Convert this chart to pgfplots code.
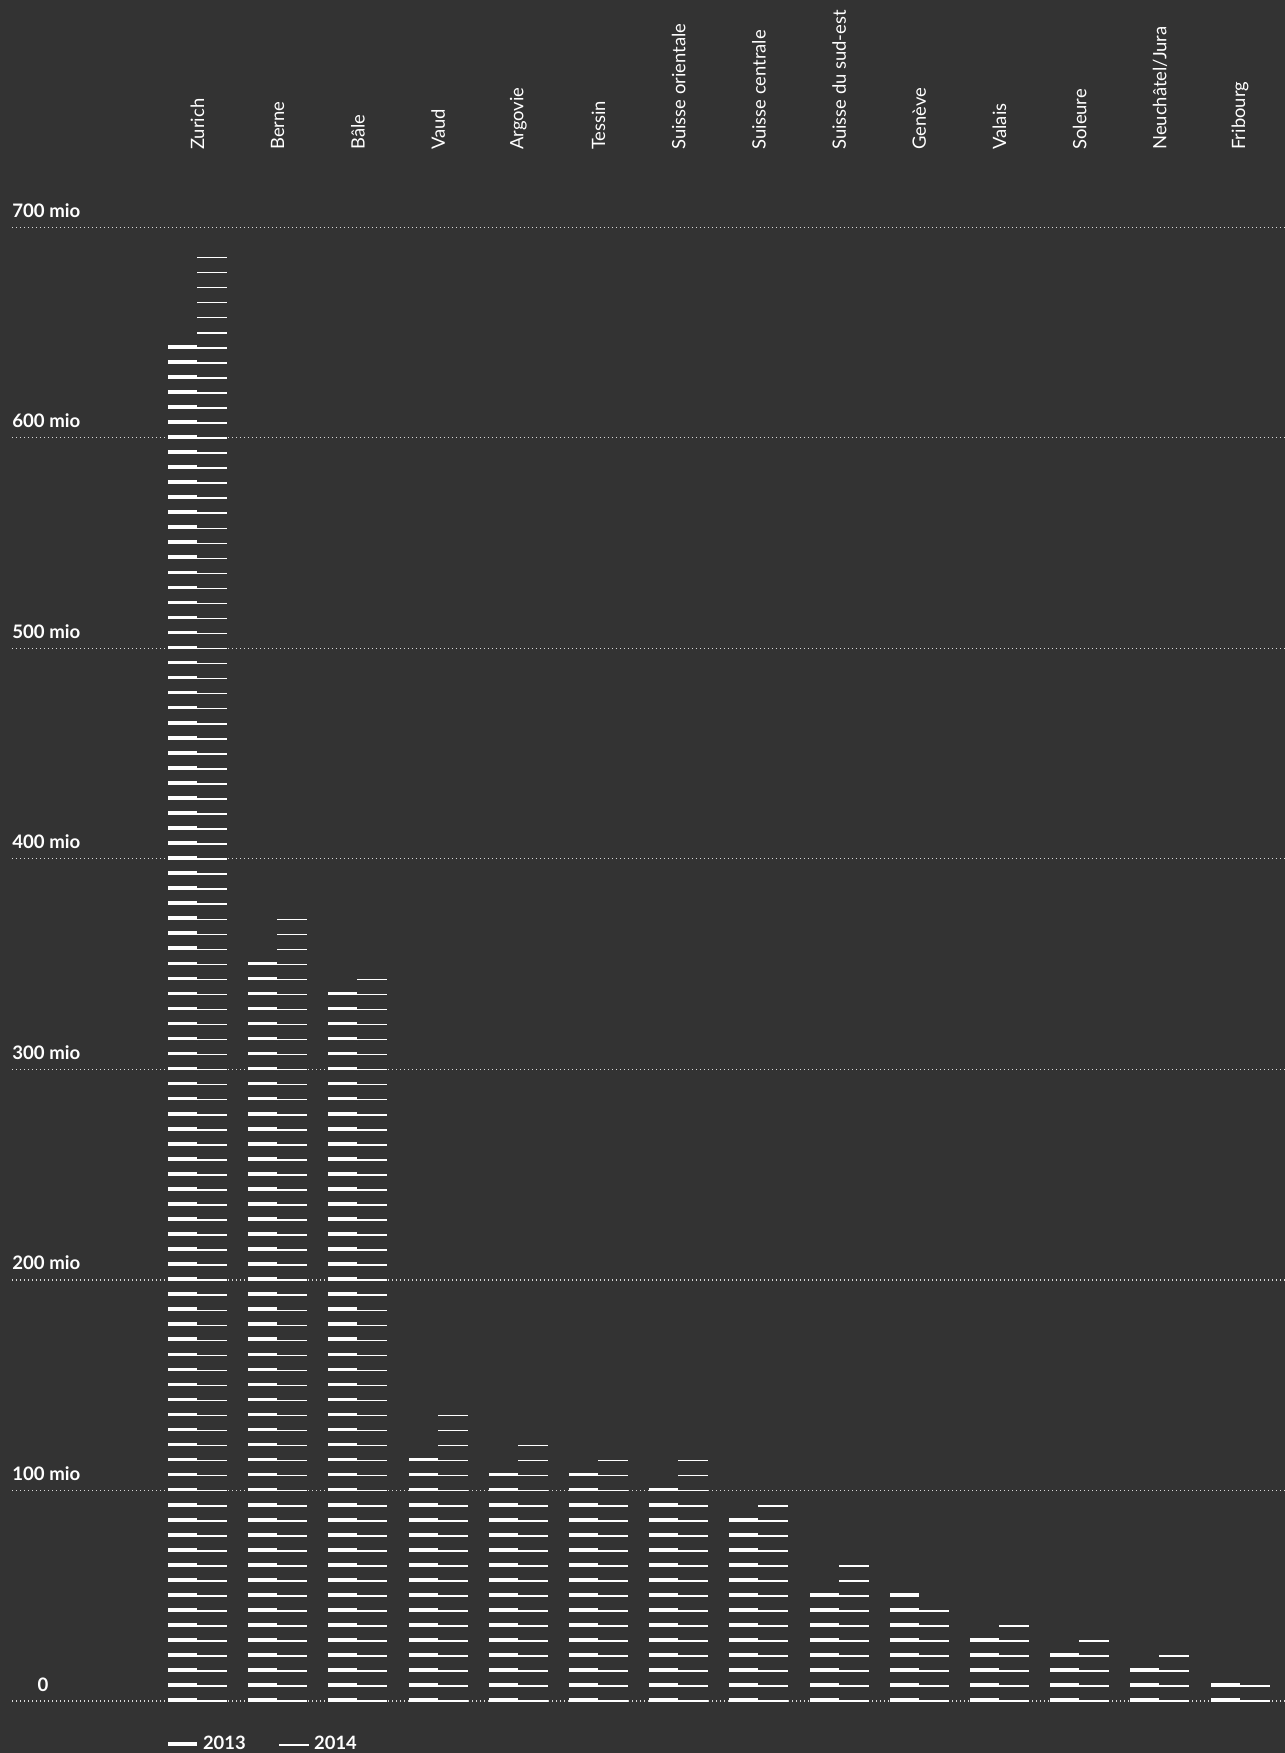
\documentclass[border=0pt]{standalone}
\usepackage{pgfplots}
\usepackage{pgfplotstable}
\pgfplotsset{compat=1.18}
\usepackage{fontspec}
\setmainfont{Lato}

\definecolor{bgcol}{HTML}{333333}
\definecolor{gridcol}{HTML}{DADADA}

% values in mio CHF, one dash = 100/14 mio
\pgfplotstableread{
x  y2013  y2014
0  645    688
1  352.5  374
2  338    345
3  117    138
4  110    124
5  110    117
6  102.5  117
7  88     95
8  52.5   67
9  52.5   45
10 31     38
11 24     31
12 17     24
13 10     10
}\regions

\begin{document}
\begin{tikzpicture}
  \fill[bgcol, use as bounding box] (-6bp,-26bp) rectangle (636.5bp,850.5bp);
  \begin{axis}[
      scale only axis,
      width=636.5bp, height=736.85bp,
      xmin=-2.313, xmax=13.56,
      ymin=0, ymax=700,
      axis line style={draw=none},
      tick style={draw=none},
      clip=false,
      xtick={0,...,13},
      xticklabels={Zurich,Berne,Bâle,Vaud,Argovie,Tessin,Suisse orientale,Suisse centrale,Suisse du sud-est,Genève,Valais,Soleure,Neuchâtel/Jura,Fribourg},
      xticklabel pos=upper,
      xticklabel style={yshift=38.6bp, rotate=90, anchor=west, inner sep=0pt, text=white,
        font=\fontsize{9.2bp}{10bp}\selectfont},
      ytick={100,200,...,700},
      yticklabels={100 mio,200 mio,300 mio,400 mio,500 mio,600 mio,700 mio},
      yticklabel style={anchor=base west, inner sep=0pt, yshift=5bp, text=white,
        font=\bfseries\fontsize{9.3bp}{10bp}\selectfont},
      extra y ticks={0},
      extra y tick labels={0},
      extra y tick style={ymajorgrids=true, yticklabel style={anchor=base, xshift=15.5bp}},
      major tick length=0pt,
      ymajorgrids=true,
      major grid style={gridcol, line width=0.6bp, dash pattern=on 0.6bp off 1.4bp},
      legend columns=2,
      legend style={at={(axis description cs:0,0)}, anchor=west, xshift=77bp, yshift=-21.5bp,
        draw=none, fill=none, inner sep=0pt, text=white,
        font=\bfseries\fontsize{9.2bp}{10bp}\selectfont,
        nodes={inner sep=0pt},
        /tikz/every odd column/.append style={column sep=2bp},
        /tikz/every even column/.append style={column sep=16.5bp}},
    ]
    \addplot[forget plot, ycomb, white, line width=14.5bp,
      dash pattern=on 1.8bp off 5.719bp, xshift=-7.5bp, yshift=-0.5bp]
      table[x=x, y=y2013] {\regions};
    \addplot[forget plot, ycomb, white, line width=15bp,
      dash pattern=on 0.75bp off 6.769bp, xshift=7.25bp, yshift=-0.5bp]
      table[x=x, y=y2014] {\regions};
    \addlegendimage{legend image code/.code={\draw[white, line width=1.8bp, solid] (0bp,0bp) -- (14.5bp,0bp);}}
    \addlegendentry{2013}
    \addlegendimage{legend image code/.code={\draw[white, line width=0.75bp, solid] (0bp,-0.5bp) -- (15bp,-0.5bp);}}
    \addlegendentry{2014}
  \end{axis}
\end{tikzpicture}
\end{document}
